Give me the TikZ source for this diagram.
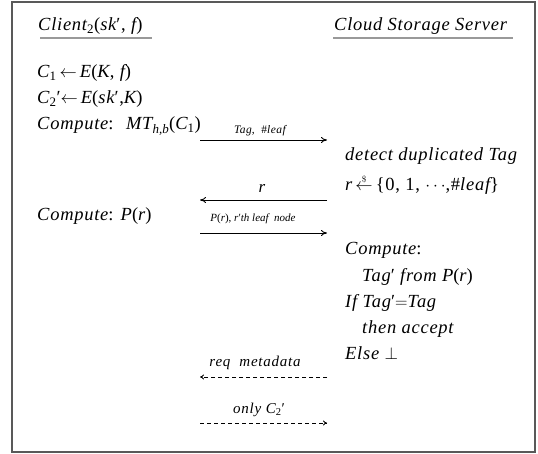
\documentclass[tikz,border=0pt]{standalone}
\usepackage{fontspec}
\setmainfont{Liberation Serif}
\usetikzlibrary{arrows.meta}

% upright helpers inside italic text
\newcommand{\up}[1]{{\upshape #1}}
\newcommand{\pr}{{\upshape ′}}
\newcommand{\lowidx}[1]{\textsubscript{\upshape\addfontfeature{LetterSpace=0} #1}}
\newcommand{\getsrand}{$\stackrel{\scriptscriptstyle\$}{\leftarrow}$}

\tikzset{
  txt/.style={anchor=base west, inner sep=0pt,
    font=\fontsize{18.5}{21}\selectfont\itshape\addfontfeature{LetterSpace=4}},
  lbl/.style={anchor=base, inner sep=0pt,
    font=\fontsize{11.5}{13}\selectfont\itshape\addfontfeature{LetterSpace=4}},
  mlbl/.style={anchor=base, inner sep=0pt,
    font=\fontsize{15}{17}\selectfont\itshape\addfontfeature{LetterSpace=5}},
  msg/.style={line width=0.9pt, -{To[length=6pt,width=6pt]}},
  dmsg/.style={line width=0.9pt, dash pattern=on 4pt off 3pt, -{To[length=4pt,width=5pt]}},
  rule/.style={draw=gray!80, line width=2pt},
}

\begin{document}
\begin{tikzpicture}[x=1pt,y=-1pt]
\useasboundingbox (0,0) rectangle (538,454);
\draw[gray!70!black, line width=1.4pt] (12,2) rectangle (535,452);

% parties
\node[txt] (client) at (38,31) {Client\lowidx{2}\up{(}sk\pr\up{,} f\up{)}};
\node[txt] (server) at (334,31) {Cloud Storage Server};
\draw[rule] (client.base west) ++(2,7) coordinate (cu1) -- (152,38);
\draw[rule] (333,38) coordinate (su1) -- (513,38);

% client side
\node[txt] (c1) at (37,78) {C\lowidx{1}\,$\leftarrow$\,E\up{(}K\up{,} f\up{)}};
\node[txt] (c2) at (37,104) {C\lowidx{2}\pr$\leftarrow$\,E\up{(}sk\pr\up{,}K\up{)}};
\node[txt] (mt) at (37,130) {Compute\up{:} \ MT\lowidx{\itshape h,b}\up{(}C\lowidx{1}\up{)}};
\node[txt] (pr) at (37,221) {Compute\up{:} P\up{(}r\up{)}};

% server side
\node[txt] (dup) at (345,161) {detect duplicated Tag};
\node[txt] (rnd) at (345,191) {r\,\getsrand\,\up{\{0, 1, }$\cdots$\up{,}\up{\#}leaf\up{\}}};
\node[txt] (cmp) at (345,255) {Compute\up{:}};
\node[txt] (tagp) at (362,282) {Tag\pr\ from P\up{(}r\up{)}};
\node[txt] (iff) at (345,308) {If Tag\pr$=$Tag};
\node[txt] (acc) at (362,334) {then accept};
\node[txt] (els) at (345,359) {Else $\perp$};

% message end points
\coordinate (m1a) at (200,140); \coordinate (m1b) at (327,140);
\coordinate (m2a) at (327,200); \coordinate (m2b) at (200,200);
\coordinate (m3a) at (200,233); \coordinate (m3b) at (327,233);
\coordinate (m4a) at (327,377); \coordinate (m4b) at (200,377);
\coordinate (m5a) at (200,423); \coordinate (m5b) at (327,423);

\draw[msg] (m1a) -- (m1b);
\draw[msg] (m2a) -- (m2b);
\draw[msg] (m3a) -- (m3b);
\draw[dmsg] (m4a) -- (m4b);
\draw[dmsg] (m5a) -- (m5b);

% message labels
\node[lbl] (l1) at (260,134) {Tag\up{,} \ \up{\#}leaf};
\node[mlbl, font=\fontsize{17}{19}\selectfont\itshape] (l2) at (262,193) {r};
\node[lbl, font=\fontsize{11}{13}\selectfont\itshape] (l3) at (253,222) {P\up{(}r\up{),} r\pr th leaf \ node};
\node[mlbl] (l4) at (255,366) {req \ metadata};
\node[mlbl] (l5) at (259,413) {only C\lowidx{2}\pr};
\end{tikzpicture}
\end{document}
